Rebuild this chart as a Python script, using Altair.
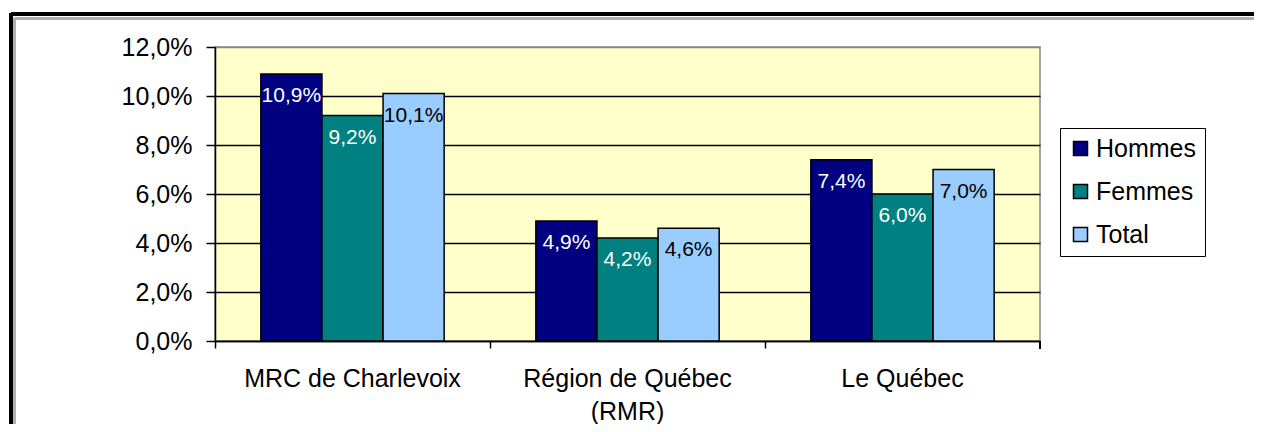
import altair as alt
import pandas as pd

categories = ["MRC de Charlevoix", "Région de Québec (RMR)", "Le Québec"]
series = ["Hommes", "Femmes", "Total"]
hommes = [10.9, 4.9, 7.4]
femmes = [9.2, 4.2, 6.0]
total = [10.1, 4.6, 7.0]
y_ticks = [0, 2, 4, 6, 8, 10, 12]
colors = ["#000080", "#008080", "#99CCFF"]

rows = []
for s, vals in zip(series, [hommes, femmes, total]):
    for c, v in zip(categories, vals):
        rows.append({"category": c, "series": s, "value": v})
df = pd.DataFrame(rows)

W, H = 825, 294
FONT = "Liberation Sans"

x_enc = alt.X(
    "category:N",
    sort=categories,
    scale=alt.Scale(paddingInner=0, paddingOuter=0),
    axis=alt.Axis(
        title=None, bandPosition=0, labelAngle=0, labelLimit=0,
        tickSize=7, tickColor="black", tickWidth=1.5,
        domainColor="black", domainWidth=1.5,
        labelFontSize=25, labelFont=FONT, labelColor="black",
        labelPadding=18, labelLineHeight=33,
        labelExpr="datum.label == 'Région de Québec (RMR)' ? ['Région de Québec', '(RMR)'] : datum.label",
    ),
)
y_enc = alt.Y(
    "value:Q",
    scale=alt.Scale(domain=[0, 12]),
    axis=alt.Axis(
        title=None, values=y_ticks,
        labelExpr="replace(format(datum.value, '.1f'), '.', ',') + '%'",
        labelFontSize=25, labelFont=FONT, labelColor="black", labelPadding=14,
        tickSize=9, tickColor="black", tickWidth=1.5,
        domainColor="black", domainWidth=1.5,
        grid=True,
        gridColor={"condition": {"test": "datum.value >= 12", "value": "#888888"}, "value": "black"},
        gridWidth=1.5,
    ),
)
xoff = alt.XOffset("series:N", sort=series, scale=alt.Scale(paddingInner=0, paddingOuter=0.75))

base = alt.Chart(df)

bars = base.mark_bar(stroke="black", strokeWidth=1.5).encode(
    x=x_enc,
    xOffset=xoff,
    y=y_enc,
    color=alt.Color(
        "series:N",
        sort=series,
        scale=alt.Scale(domain=series, range=colors),
        legend=alt.Legend(
            title=None, orient="none", legendX=845, legendY=81,
            symbolType="square", symbolSize=196, symbolStrokeColor="black",
            symbolStrokeWidth=1.5, labelFontSize=25, labelFont=FONT,
            labelColor="black", labelOffset=3, rowPadding=17,
            strokeColor="black", fillColor="white", padding=8,
        ),
    ),
)

labels = base.mark_text(baseline="middle", dy=22, fontSize=21, font=FONT).transform_calculate(
    label="replace(format(datum.value, '.1f'), '.', ',') + '%'"
).encode(
    x=alt.X("category:N", sort=categories),
    xOffset=xoff,
    y=alt.Y("value:Q"),
    text="label:N",
    color=alt.condition(alt.datum.series == "Total", alt.value("black"), alt.value("white")),
)

end_tick = alt.Chart(df).mark_rule(color="black", strokeWidth=1.5).encode(
    x=alt.value(W), y=alt.value(H), y2=alt.value(H + 8)
)

frame_top = alt.Chart(df).mark_rule(color="black", strokeWidth=3).encode(
    x=alt.value(-204), x2=alt.value(W + 214), y=alt.value(-33)
)
frame_left = alt.Chart(df).mark_rule(color="black", strokeWidth=3).encode(
    x=alt.value(-204), y=alt.value(-34), y2=alt.value(400)
)
frame_top2 = alt.Chart(df).mark_rule(color="#b0b0b0", strokeWidth=3).encode(
    x=alt.value(-201), x2=alt.value(W + 214), y=alt.value(-28.5)
)
frame_left2 = alt.Chart(df).mark_rule(color="#b0b0b0", strokeWidth=2).encode(
    x=alt.value(-200.5), y=alt.value(-28.5), y2=alt.value(400)
)

chart = alt.layer(
    bars, labels, end_tick, frame_top, frame_left, frame_top2, frame_left2
).properties(
    width=W, height=H,
    autosize=alt.AutoSizeParams(type="none"),
    padding={"left": 207, "top": 39, "right": 214, "bottom": 83},
    background="white",
).configure_view(
    fill="#FFFFCC", stroke="#888888", strokeWidth=1.5
)

chart.save("out.html", embed_options={"renderer": "svg", "actions": False})
